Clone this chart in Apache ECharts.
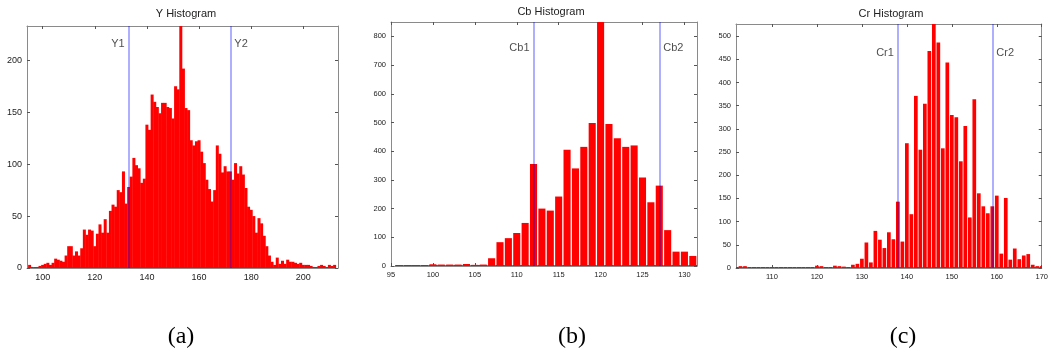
<!DOCTYPE html>
<html>
<head>
<meta charset="utf-8">
<script src="https://cdn.jsdelivr.net/npm/echarts@6/dist/echarts.min.js"></script>
<style>
  html, body { margin: 0; padding: 0; background: #fff; }
  #main { width: 1051px; height: 359px; }
</style>
</head>
<body>
<div id="main"></div>
<script>
// Y histogram (bin centres and counts)
const yBins = [95,96,97,98,99,100,101,102,103,104,105,106,107,108,109,110,111,112,113,114,115,116,117,118,119,120,
  121,122,123,124,125,126,127,128,129,130,131,132,133,134,135,136,137,138,139,140,141,142,143,144,145,146,147,148,149,150,
  151,152,153,154,155,156,157,158,159,160,161,162,163,164,165,166,167,168,169,170,171,172,173,174,175,176,177,178,179,180,
  181,182,183,184,185,186,187,188,189,190,191,192,193,194,195,196,197,198,199,200,201,202,203,204,205,206,207,208,209,210,211,212];
const yCounts = [3,1,0,1,2,3,4,5,3,5,9,8,7,6,12,21,21,12,16,12,19,37,32,37,36,21,
  33,42,34,47,34,55,61,59,75,73,93,62,78,88,106,99,96,82,86,138,133,167,160,155,149,159,159,155,154,144,
  175,172,250,192,154,152,123,118,122,123,112,101,85,76,64,75,118,110,92,98,93,93,85,101,91,98,90,77,59,56,
  50,34,48,43,31,21,12,6,3,10,4,7,4,8,6,6,5,4,5,3,3,3,2,1,1,2,3,2,1,3,2,3];

// Cb histogram
const cbBins = [96,97,98,99,100,101,102,103,104,105,106,107,108,109,110,111,112,113,114,115,116,117,118,119,120,
  121,122,123,124,125,126,127,128,129,130,131];
const cbCounts = [2,2,2,2,6,5,5,5,7,4,5,27,83,97,115,150,355,200,193,242,405,340,415,498,900,
  495,445,415,420,308,222,280,125,50,50,35];

// Cr histogram
const crBins = [102,103,104,105,106,107,108,109,110,111,112,113,114,115,116,117,118,119,120,121,122,123,124,125,126,
  127,128,129,130,131,132,133,134,135,136,137,138,139,140,141,142,143,144,145,146,147,148,149,150,
  151,152,153,154,155,156,157,158,159,160,161,162,163,164,165,166,167,168,169,170];
const crCounts = [0,4,4,0,0,0,0,0,0,0,0,0,0,0,0,1,2,1,5,4,2,1,5,4,3,
  2,7,9,20,55,12,80,61,43,77,62,143,57,269,116,371,255,354,468,560,486,258,443,330,
  325,230,306,109,364,161,133,118,133,156,31,151,18,42,19,27,30,7,4,4];

// thresholds
const yMarks = [133, 172];
const cbMarks = [112, 127];
const crMarks = [138, 159];

// tick values
const yXTicks = [100, 120, 140, 160, 180, 200];
const yYTicks = [0, 50, 100, 150, 200];
const cbXTicks = [95, 100, 105, 110, 115, 120, 125, 130];
const cbYTicks = [0, 100, 200, 300, 400, 500, 600, 700, 800];
const crXTicks = [110, 120, 130, 140, 150, 160, 170];
const crYTicks = [0, 50, 100, 150, 200, 250, 300, 350, 400, 450, 500];

const FONT = "'Liberation Sans', Arial, sans-serif";

const panels = [
  { grid: { left: 27, top: 26, width: 311, height: 242 }, xMin: 94, xMax: 213.3, yMax: 233,
    bins: yBins, counts: yCounts, marks: yMarks, names: ['Y1', 'Y2'], labelY: 216,
    xTicks: yXTicks, yTicks: yYTicks, fs: 9, gap: -0.4 },
  { grid: { left: 391, top: 22, width: 306, height: 244 }, xMin: 95, xMax: 131.5, yMax: 850,
    bins: cbBins, counts: cbCounts, marks: cbMarks, names: ['Cb1', 'Cb2'], labelY: 761,
    xTicks: cbXTicks, yTicks: cbYTicks, fs: 7.5, gap: 1.3 },
  { grid: { left: 736, top: 24, width: 306, height: 244 }, xMin: 102, xMax: 170, yMax: 526,
    bins: crBins, counts: crCounts, marks: crMarks, names: ['Cr1', 'Cr2'], labelY: 463,
    xTicks: crXTicks, yTicks: crYTicks, fs: 7.5, gap: 0.8 }
];

function axis(p, i, pos, isX) {
  const ticks = isX ? p.xTicks : p.yTicks;
  const main = pos === 'bottom' || pos === 'left';
  return {
    type: 'value', gridIndex: i, position: pos,
    min: isX ? p.xMin : 0, max: isX ? p.xMax : p.yMax,
    axisLine: { show: true, onZero: false, lineStyle: { color: '#8a8a8a', width: 1 } },
    axisTick: { show: true, inside: true, length: 3, customValues: ticks, lineStyle: { color: '#555' } },
    axisLabel: { show: main, customValues: ticks, fontSize: p.fs, color: '#222', fontFamily: FONT, margin: 5 },
    splitLine: { show: false }
  };
}

const xAxis = [], yAxis = [], series = [], grid = [];
panels.forEach((p, i) => {
  grid.push(p.grid);
  xAxis.push(axis(p, i, 'bottom', true), axis(p, i, 'top', true));
  yAxis.push(axis(p, i, 'left', false), axis(p, i, 'right', false));
  const gap = p.gap;
  series.push({
    type: 'custom', xAxisIndex: 2 * i, yAxisIndex: 2 * i, clip: true, silent: true,
    data: p.bins.map((b, k) => [b, p.counts[k]]),
    renderItem: function (params, api) {
      const x = api.value(0), c = api.value(1);
      const a = api.coord([x - 0.5, c]);
      const b = api.coord([x + 0.5, 0]);
      return {
        type: 'group',
        children: [
          { type: 'rect', shape: { x: a[0] + gap / 2, y: a[1], width: b[0] - a[0] - gap, height: b[1] - a[1] },
            style: { fill: '#ff0000' } },
          { type: 'line', shape: { x1: a[0], y1: b[1] - 0.5, x2: b[0], y2: b[1] - 0.5 },
            style: { stroke: '#ff0000', lineWidth: 1 } }
        ]
      };
    }
  });
  series.push({
    type: 'scatter', xAxisIndex: 2 * i, yAxisIndex: 2 * i, symbolSize: 0, silent: true, z: 5,
    data: [
      { name: p.names[0], value: [p.marks[0], p.labelY], label: { position: 'left', distance: 4 } },
      { name: p.names[1], value: [p.marks[1], p.labelY], label: { position: 'right', distance: 4 } }
    ],
    label: { show: true, formatter: d => d.name, fontSize: 11, color: '#222', fontFamily: FONT },
    markLine: {
      symbol: ['none', 'none'], silent: true, animation: false,
      label: { show: false },
      lineStyle: { color: 'rgba(0,0,255,0.42)', width: 1.5, type: 'solid' },
      emphasis: { disabled: true },
      data: p.marks.map(m => ({ xAxis: m }))
    }
  });
});

const titleStyle = { fontSize: 11, fontFamily: FONT, fill: '#222', align: 'center', verticalAlign: 'middle' };
const capStyle = { fontSize: 24, fontFamily: "'Liberation Serif', 'Times New Roman', serif", fill: '#000',
                   align: 'center', verticalAlign: 'middle' };

const chart = echarts.init(document.getElementById('main'), null, { renderer: 'canvas' });
chart.setOption({
  animation: false,
  backgroundColor: '#ffffff',
  grid: grid,
  xAxis: xAxis,
  yAxis: yAxis,
  series: series,
  graphic: [
    { type: 'text', x: 186, y: 14, style: Object.assign({ text: 'Y Histogram' }, titleStyle) },
    { type: 'text', x: 551, y: 12, style: Object.assign({ text: 'Cb Histogram' }, titleStyle) },
    { type: 'text', x: 891, y: 14, style: Object.assign({ text: 'Cr Histogram' }, titleStyle) },
    { type: 'text', x: 181, y: 337, style: Object.assign({ text: '(a)' }, capStyle) },
    { type: 'text', x: 572, y: 337, style: Object.assign({ text: '(b)' }, capStyle) },
    { type: 'text', x: 903, y: 337, style: Object.assign({ text: '(c)' }, capStyle) }
  ]
});
</script>
</body>
</html>
